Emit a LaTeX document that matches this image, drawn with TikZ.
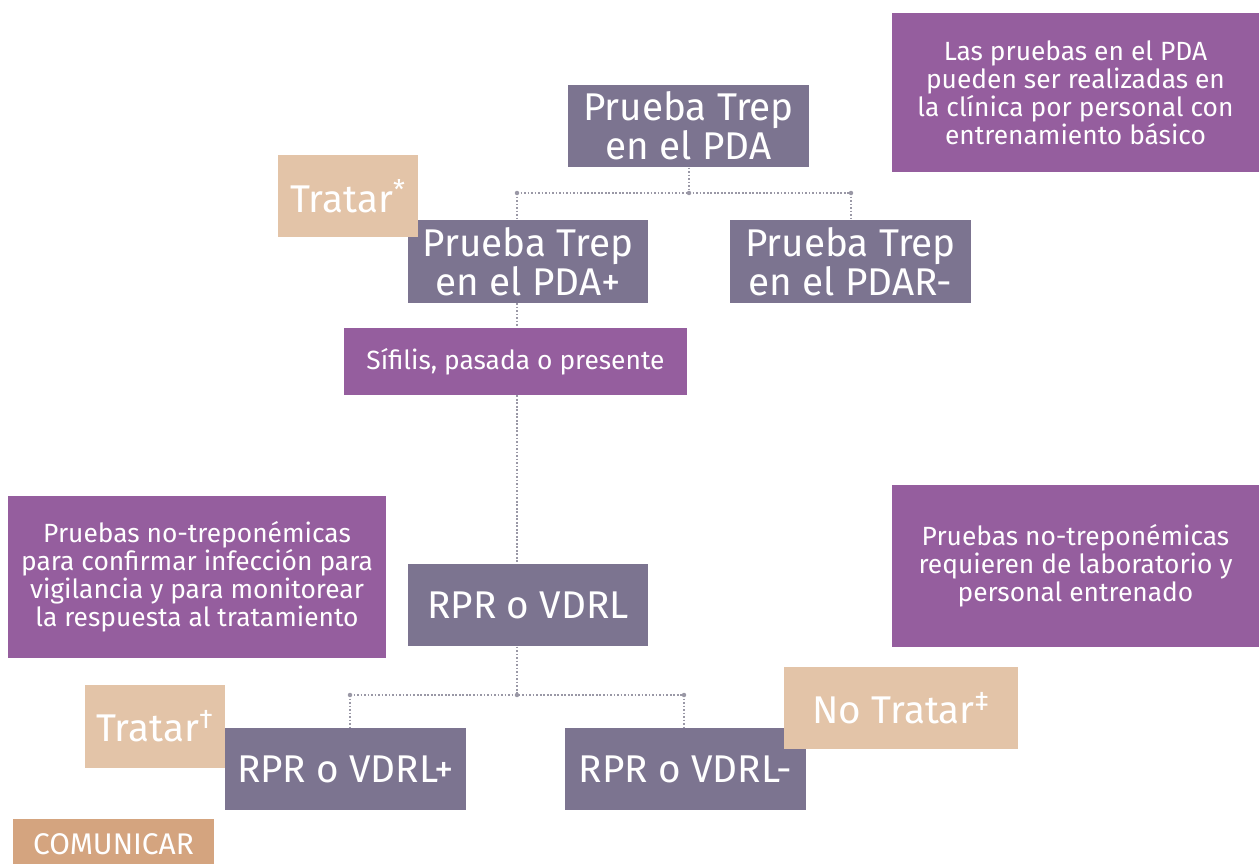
\documentclass[tikz,border=0pt]{standalone}
\usepackage{fontspec}
\setmainfont{Fira Sans}
\definecolor{slate}{HTML}{7C7490}
\definecolor{plum}{HTML}{955E9E}
\definecolor{beige}{HTML}{E3C4A8}
\definecolor{tan}{HTML}{D4A47F}
\definecolor{linegray}{HTML}{9A98A6}
\begin{document}
\begin{tikzpicture}
        [x=0.02cm, y=-0.02cm,
         box/.style = {fill=slate, text=white, align=center, inner sep=0pt,
                       minimum width=4.82cm, minimum height=1.65cm,
                       font=\fontsize{22}{18}\selectfont},
         info/.style = {fill=plum, text=white, align=center, inner sep=0pt,
                        font=\fontsize{15}{16}\selectfont},
         act/.style = {fill=beige, text=white, inner sep=0pt, minimum height=1.65cm,
                       font=\fontsize{22}{18}\selectfont},
         link/.style = {densely dotted, line width=1pt, draw=linegray},
         point/.style = {circle, fill=linegray, inner sep=0.9pt}]
        \fill[white] (0,0) rectangle (1259,864);
        \useasboundingbox (0,0) rectangle (1259,864);
        % boxes
        \node[box] (pda) at (688.5,126) {Prueba Trep\\en el PDA};
        \node[box] (pdapos) at (528,261.5) {Prueba Trep\\en el PDA+};
        \node[box] (pdaneg) at (850.5,261.5) {Prueba Trep\\en el PDAR-};
        \node[info, minimum width=6.86cm, minimum height=1.34cm] (sif) at (515.5,361.5) {Sífilis, pasada o presente};
        \node[box] (rpr) at (528,605) {RPR o VDRL};
        \node[box] (rprpos) at (345.5,769) {RPR o VDRL+};
        \node[box] (rprneg) at (685.5,769) {RPR o VDRL-};
        % notes
        \node[info, minimum width=7.34cm, minimum height=3.18cm] (note1) at (1075.5,92.5)
            {Las pruebas en el PDA\\pueden ser realizadas en\\la clínica por personal con\\entrenamiento básico};
        \node[info, minimum width=7.56cm, minimum height=3.24cm] (note2) at (197,577)
            {Pruebas no-treponémicas\\para confirmar infección para\\vigilancia y para monitorear\\la respuesta al tratamiento};
        \node[info, minimum width=7.34cm, minimum height=3.24cm] (note3) at (1075.5,566)
            {Pruebas no-treponémicas\\requieren de laboratorio y\\personal entrenado};
        % actions
        \node[act, minimum width=2.8cm] (trat1) at (348,196) {Tratar\textsuperscript{*}};
        \node[act, minimum width=2.8cm] (trat2) at (155,726.5) {Tratar\textsuperscript{\textdagger}};
        \node[act, minimum width=4.68cm] (notrat) at (901,708) {No Tratar\textsuperscript{\textdaggerdbl}};
        \node[fill=tan, text=white, inner sep=0pt, minimum width=4.02cm, minimum height=1cm,
              font=\fontsize{17}{17}\selectfont] (com) at (113.5,844) {COMUNICAR};
        % connectors
        \coordinate (s1) at (689,193);
        \coordinate (s1l) at (517,193);
        \coordinate (s1r) at (851,193);
        \coordinate (s2) at (517,695);
        \coordinate (s2l) at (350,695);
        \coordinate (s2r) at (684,695);
        \draw[link] (pda.south -| s1) -- (s1);
        \draw[link] (s1l) -- (s1r);
        \draw[link] (s1l) -- (s1l |- pdapos.north);
        \draw[link] (s1r) -- (s1r |- pdaneg.north);
        \draw[link] (s1l |- pdapos.south) -- (s1l |- sif.north);
        \draw[link] (s1l |- sif.south) -- (s1l |- rpr.north);
        \draw[link] (s2 |- rpr.south) -- (s2);
        \draw[link] (s2l) -- (s2r);
        \draw[link] (s2l) -- (s2l |- rprpos.north);
        \draw[link] (s2r) -- (s2r |- rprneg.north);
        \foreach \p in {s1,s1l,s1r,s2,s2l,s2r}
            \node[point] at (\p) {};
\end{tikzpicture}
\end{document}
